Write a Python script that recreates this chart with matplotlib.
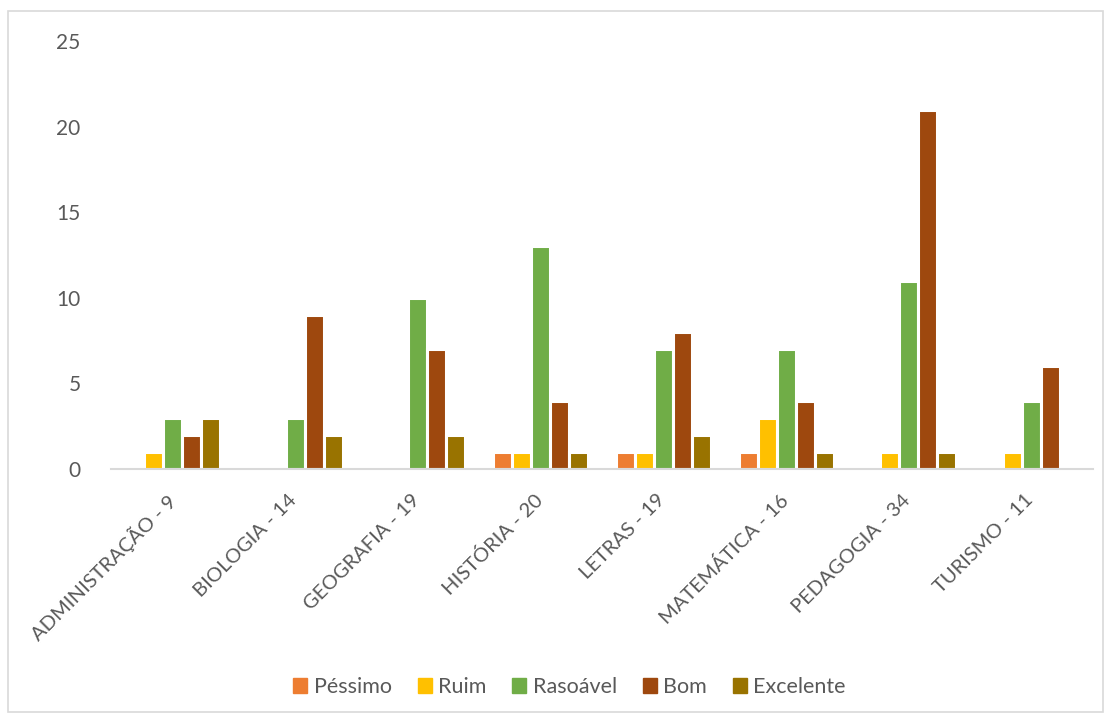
import matplotlib
matplotlib.use("Agg")
import matplotlib.pyplot as plt
import matplotlib.patches as mpatches
import numpy as np

categories = ["ADMINISTRAÇÃO - 9", "BIOLOGIA - 14", "GEOGRAFIA - 19", "HISTÓRIA - 20",
              "LETRAS - 19", "MATEMÁTICA - 16", "PEDAGOGIA - 34", "TURISMO - 11"]
series_names = ["Péssimo", "Ruim", "Rasoável", "Bom", "Excelente"]
pessimo   = [0, 0, 0, 1, 1, 1, 0, 0]
ruim      = [1, 0, 0, 1, 1, 3, 1, 1]
rasoavel  = [3, 3, 10, 13, 7, 7, 11, 4]
bom       = [2, 9, 7, 4, 8, 4, 21, 6]
excelente = [3, 2, 2, 1, 2, 1, 1, 0]
series_values = [pessimo, ruim, rasoavel, bom, excelente]
colors = ["#ED7D31", "#FFC000", "#70AD47", "#9E480E", "#997300"]
yticks = [0, 5, 10, 15, 20, 25]

plt.rcParams["font.family"] = ["Lato", "DejaVu Sans"]
text_color = "#595959"

fig = plt.figure(figsize=(11.1, 7.2), dpi=100)
ax = fig.add_axes([0.1, 0.3486, 0.8847, 0.5944])

x = np.arange(len(categories))
step = 0.155
width = 0.155
for i, (name, vals, c) in enumerate(zip(series_names, series_values, colors)):
    offs = (i - 2) * step
    v = np.array(vals, dtype=float)
    mask = v > 0
    ax.bar(x[mask] + offs, v[mask], width=width, color=c, edgecolor="white",
           linewidth=2.2, label=name, zorder=3)

ax.set_xlim(-0.5, len(categories) - 0.5)
ax.set_ylim(0, 25)
ax.set_yticks(yticks)
ax.set_yticklabels([str(t) for t in yticks], fontsize=15, color=text_color)
ax.tick_params(axis="y", length=0, pad=22)
ax.tick_params(axis="x", length=0)
ax.set_xticks(x)
ax.set_xticklabels([])
for xi, lab in zip(x, categories):
    ax.annotate(lab, xy=(xi, 0), xycoords="data", xytext=(-5, -16), textcoords="offset points",
                rotation=45, rotation_mode="anchor", ha="right", va="top",
                fontsize=14.5, color=text_color, annotation_clip=False)

for s in ["top", "right", "left"]:
    ax.spines[s].set_visible(False)
ax.spines["bottom"].set_color("#D9D9D9")
ax.spines["bottom"].set_linewidth(1.5)
ax.spines["bottom"].set_zorder(4)

handles = [mpatches.Patch(color=c, label=n) for n, c in zip(series_names, colors)]
leg = fig.legend(handles=handles, loc="center", bbox_to_anchor=(0.513, 0.046), ncol=5,
                 frameon=False, fontsize=15.5, handlelength=0.65, handleheight=0.65,
                 handletextpad=0.3, columnspacing=1.2)
for t in leg.get_texts():
    t.set_color(text_color)

border = mpatches.Rectangle((8 / 1110, 1 - 712 / 720), (1103 - 8) / 1110, (712 - 11) / 720,
                            transform=fig.transFigure, fill=False, edgecolor="#D9D9D9",
                            linewidth=1.2)
fig.patches.append(border)

fig.savefig("out.png", dpi=100)
